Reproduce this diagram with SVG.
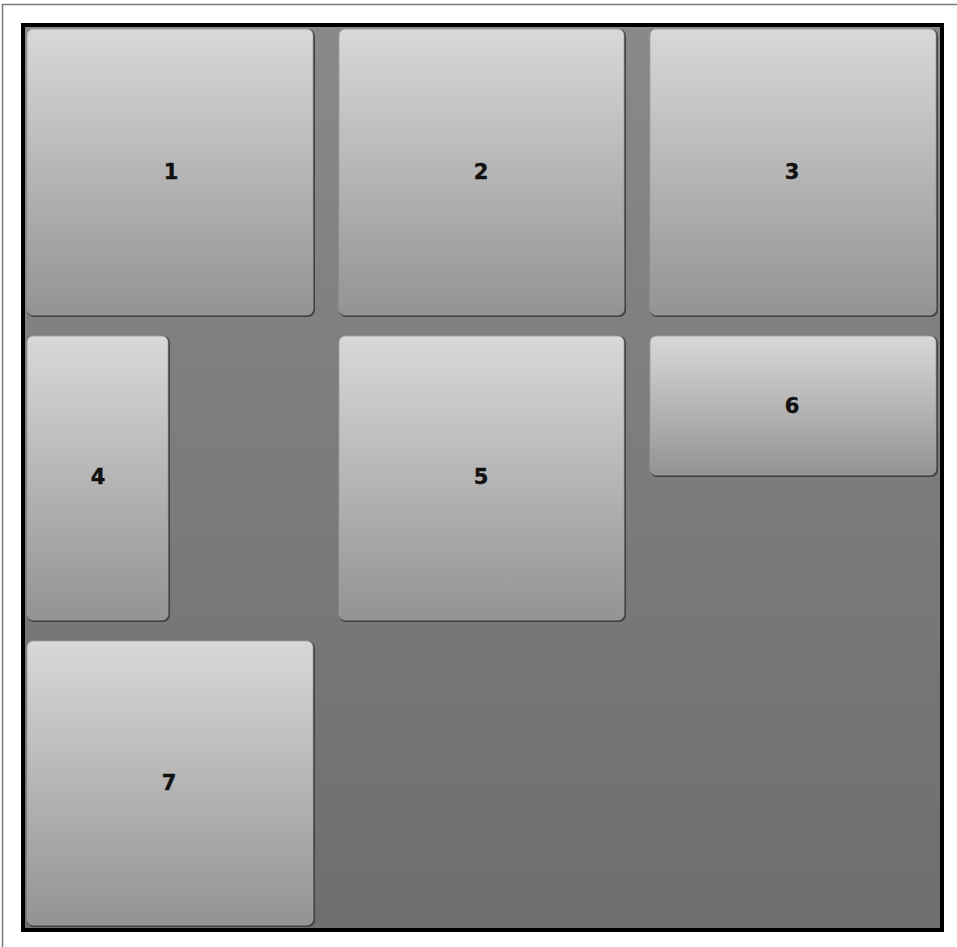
<svg xmlns="http://www.w3.org/2000/svg" width="957" height="947" viewBox="0 0 957 947">
<defs>
<linearGradient id="bg" x1="0" y1="0" x2="0" y2="1">
<stop offset="0" stop-color="#898989"/>
<stop offset="1" stop-color="#6e6e6e"/>
</linearGradient>
<linearGradient id="tile" x1="0" y1="0" x2="0" y2="1">
<stop offset="0" stop-color="#d8d8d8"/>
<stop offset="1" stop-color="#939393"/>
</linearGradient>
<style>
.sh{fill:#404040}
.tf{fill:url(#tile);stroke:#a0a0a0;stroke-width:0.8}
.lb{font-family:"DejaVu Sans",sans-serif;font-weight:bold;font-size:21px;fill:#111;text-anchor:middle;stroke:#111;stroke-width:0.4}
</style>
</defs>
<rect width="957" height="947" fill="#ffffff"/>
<path d="M2.5 947 V4.5 H957" fill="none" stroke="#7a7a7a" stroke-width="1.5"/>
<rect x="23" y="25" width="919" height="905" fill="url(#bg)" stroke="#000" stroke-width="4"/>
<g id="tile1"><rect class="sh" x="27" y="29" width="288" height="288" rx="7"/><rect class="tf" x="27" y="29" width="286" height="286" rx="6"/><text class="lb" x="171" y="179">1</text></g>
<g id="tile2"><rect class="sh" x="339" y="29" width="287" height="288" rx="7"/><rect class="tf" x="339" y="29" width="285" height="286" rx="6"/><text class="lb" x="481" y="179">2</text></g>
<g id="tile3"><rect class="sh" x="650" y="29" width="288" height="288" rx="7"/><rect class="tf" x="650" y="29" width="286" height="286" rx="6"/><text class="lb" x="792" y="179">3</text></g>
<g id="tile4"><rect class="sh" x="27" y="336" width="143" height="286" rx="7"/><rect class="tf" x="27" y="336" width="141" height="284" rx="6"/><text class="lb" x="98" y="484">4</text></g>
<g id="tile5"><rect class="sh" x="339" y="336" width="287" height="286" rx="7"/><rect class="tf" x="339" y="336" width="285" height="284" rx="6"/><text class="lb" x="481" y="484">5</text></g>
<g id="tile6"><rect class="sh" x="650" y="336" width="288" height="141" rx="7"/><rect class="tf" x="650" y="336" width="286" height="139" rx="6"/><text class="lb" x="792" y="413">6</text></g>
<g id="tile7"><rect class="sh" x="27" y="641" width="288" height="286" rx="7"/><rect class="tf" x="27" y="641" width="286" height="284" rx="6"/><text class="lb" x="169" y="790">7</text></g>
<g id="connectors"></g>
</svg>
